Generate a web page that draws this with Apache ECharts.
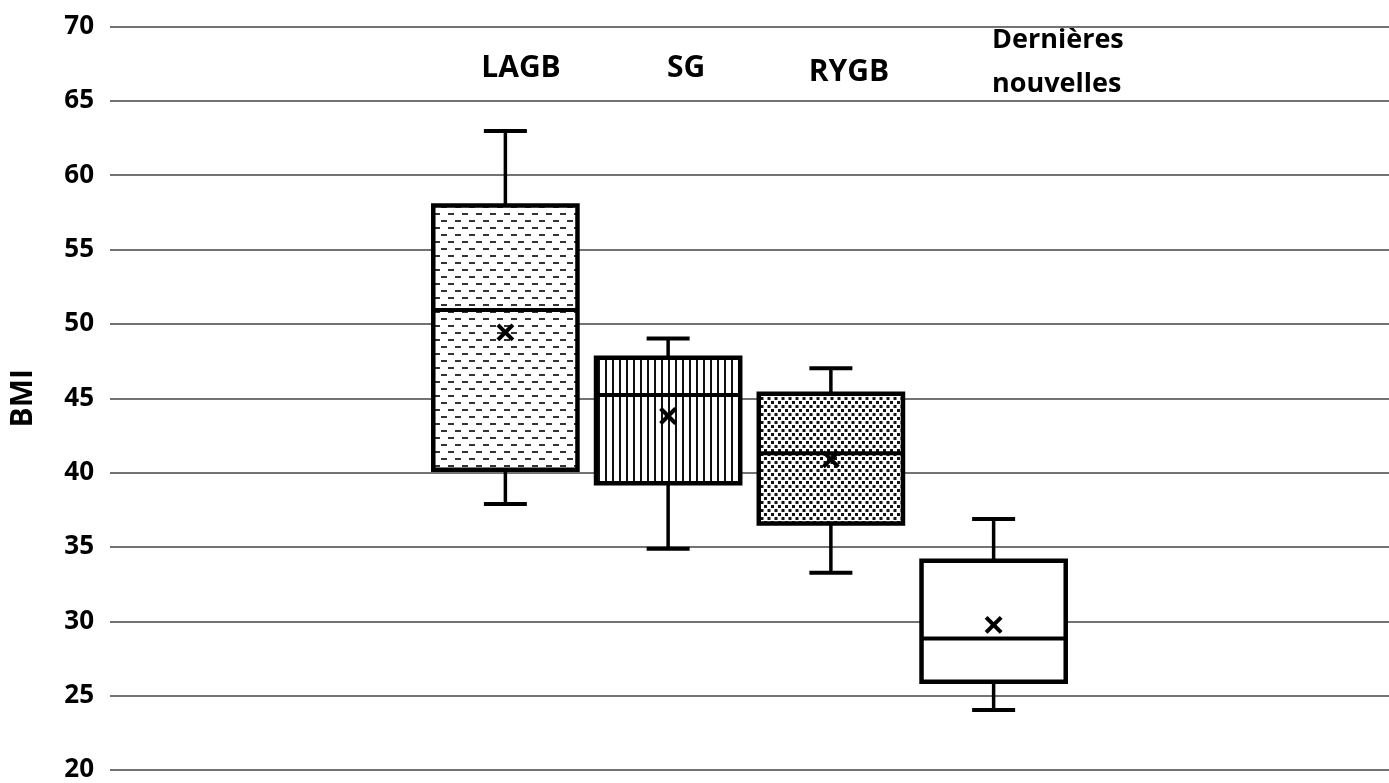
<!DOCTYPE html>
<html>
<head>
<meta charset="utf-8">
<script src="https://cdn.jsdelivr.net/npm/echarts@6/dist/echarts.min.js"></script>
<style>
html, body { margin: 0; padding: 0; background: #fff; }
#chart { width: 1389px; height: 783px; }
</style>
</head>
<body>
<div id="chart"></div>
<script>
const categories = ['LAGB', 'SG', 'RYGB', 'Dernières nouvelles']
// min, Q1, median, Q3, max
const lowWhisker = [38, 35, 33.4, 24.2]
const q1 = [40.3, 39.4, 36.7, 26.1]
const median = [51, 45.3, 41.4, 29]
const q3 = [58, 47.8, 45.4, 34.2]
const highWhisker = [63, 49.1, 47.1, 37]
const mean = [49.5, 43.9, 41, 29.9]
const yMin = 20
const yMax = 70
const yStep = 5

const FONT = '"Open Sans", "Noto Sans", sans-serif'

// small tiles used as box fills
const makeTile = (w, h, draw) => {
  const c = document.createElement('canvas')
  c.width = w
  c.height = h
  const ctx = c.getContext('2d')
  ctx.fillStyle = '#fff'
  ctx.fillRect(0, 0, w, h)
  ctx.fillStyle = '#111'
  draw(ctx)
  return { image: c, repeat: 'repeat' }
}

const fills = [
  // horizontal dashes
  makeTile(14, 14, ctx => {
    ctx.fillStyle = '#333'
    ctx.fillRect(0, 3, 6, 2)
    ctx.fillRect(7, 10, 6, 2)
  }),
  // vertical lines
  makeTile(7, 4, ctx => {
    ctx.fillRect(3, 0, 2, 4)
  }),
  // dots
  makeTile(14, 8, ctx => {
    ctx.fillRect(1, 1, 3, 3)
    ctx.fillRect(8, 1, 3, 3)
    ctx.fillRect(4.5, 5, 3, 3)
    ctx.fillRect(11.5, 5, 3, 3)
    ctx.fillRect(-2.5, 5, 3, 3)
  }),
  '#fff'
]

const boxData = categories.map((c, i) => [
  i, lowWhisker[i], q1[i], median[i], q3[i], highWhisker[i], mean[i]
])

const renderBox = (params, api) => {
  const i = api.value(0)
  const p = k => api.coord([i, api.value(k)])
  const [x, yLow] = p(1)
  const yQ1 = p(2)[1]
  const yMed = p(3)[1]
  const yQ3 = p(4)[1]
  const yHigh = p(5)[1]
  const yMean = p(6)[1]
  const band = api.size([1, 0])[0]
  const half = band * 0.443
  const cap = 21.5
  const m = 7.5
  const line = (x1, y1, x2, y2, w) => ({
    type: 'line',
    shape: { x1, y1, x2, y2 },
    style: { stroke: '#000', lineWidth: w }
  })
  return {
    type: 'group',
    children: [
      line(x, yQ3, x, yHigh, 3.5),
      line(x - cap, yHigh, x + cap, yHigh, 4),
      line(x, yQ1, x, yLow, 3.5),
      line(x - cap, yLow, x + cap, yLow, 4),
      {
        type: 'rect',
        shape: { x: x - half, y: yQ3, width: half * 2, height: yQ1 - yQ3 },
        style: { fill: fills[params.dataIndex], stroke: '#000', lineWidth: 4.5 }
      },
      line(x - half, yMed, x + half, yMed, 4),
      line(x - m, yMean - m, x + m, yMean + m, 4),
      line(x - m, yMean + m, x + m, yMean - m, 4)
    ]
  }
}

const chart = echarts.init(document.getElementById('chart'))

const label = (text, x, y, size, align) => ({
  type: 'text',
  x,
  y,
  style: {
    text,
    fill: '#000',
    font: 'bold ' + size + 'px ' + FONT,
    textAlign: align,
    align,
    textVerticalAlign: 'middle',
    verticalAlign: 'middle'
  }
})

chart.setOption({
  backgroundColor: '#fff',
  animation: false,
  grid: [
    { left: 110, right: 0, top: 26.5, bottom: 10.3 },
    { left: 424, width: 651, top: 26.5, bottom: 10.3 }
  ],
  xAxis: [
    { gridIndex: 0, type: 'value', show: false },
    { gridIndex: 1, type: 'category', data: categories, show: false }
  ],
  yAxis: [
    {
      gridIndex: 0,
      type: 'value',
      min: yMin,
      max: yMax,
      interval: yStep,
      name: 'BMI',
      nameLocation: 'middle',
      nameGap: 72,
      nameTextStyle: { color: '#000', fontFamily: FONT, fontWeight: 'bold', fontSize: 30 },
      axisLine: { show: false },
      axisTick: { show: false },
      axisLabel: { color: '#000', fontFamily: FONT, fontWeight: 'bold', fontSize: 26, margin: 16 },
      splitLine: { lineStyle: { color: '#444', width: 1.6 } }
    },
    { gridIndex: 1, type: 'value', min: yMin, max: yMax, show: false }
  ],
  graphic: [
    label(categories[0], 521, 68, 30, 'center'),
    label(categories[1], 686, 68, 30, 'center'),
    label(categories[2], 849, 72, 30, 'center'),
    label(categories[3].split(' ')[0], 992, 40, 27, 'left'),
    label(categories[3].split(' ')[1], 992, 84, 27, 'left')
  ],
  series: [
    {
      type: 'custom',
      xAxisIndex: 1,
      yAxisIndex: 1,
      data: boxData,
      renderItem: renderBox,
      z: 5
    }
  ]
})
</script>
</body>
</html>
